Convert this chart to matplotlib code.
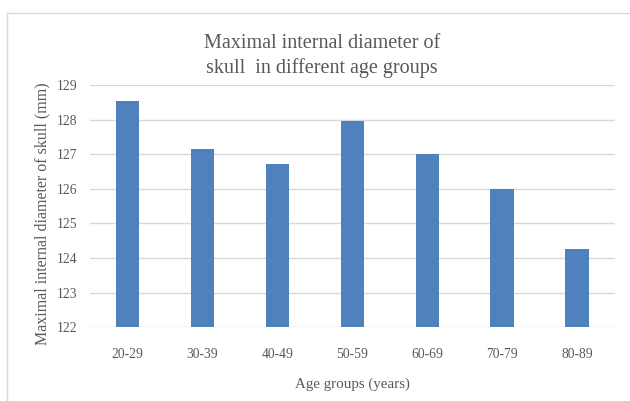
import matplotlib
matplotlib.use("Agg")
import matplotlib.pyplot as plt
from matplotlib.lines import Line2D

categories = ["20-29", "30-39", "40-49", "50-59", "60-69", "70-79", "80-89"]
values = [128.55, 127.14, 126.71, 127.97, 127.02, 126.0, 124.25]
yticks = [122, 123, 124, 125, 126, 127, 128, 129]

plt.rcParams['font.family'] = ['Liberation Serif', 'DejaVu Serif']

W, H = 630, 401
fig = plt.figure(figsize=(W / 100, H / 100), dpi=100)
ax = fig.add_axes([90 / W, 1 - 327.3 / H, (614.5 - 90) / W, (327.3 - 85) / H])

x = list(range(len(categories)))
ax.bar(x, values, width=0.31, color="#4f81bd", zorder=3)
ax.set_ylim(122, 129)
ax.set_xlim(-0.5, len(categories) - 0.5)
ax.set_yticks(yticks)
ax.set_xticks(x)
ax.set_xticklabels(categories)
ax.grid(axis="y", color="#d9d9d9", linewidth=1.0, zorder=0)
for s in ax.spines.values():
    s.set_visible(False)
ax.tick_params(axis="both", length=0, colors="#595959", labelsize=9.8)
ax.tick_params(axis="x", pad=15)
ax.tick_params(axis="y", pad=9)

ax.set_xlabel("Age groups (years)", fontsize=10.8, color="#595959", labelpad=12)
ax.set_ylabel("Maximal internal diameter of skull (mm)", fontsize=11.5, color="#595959")
ax.yaxis.set_label_coords((50 - 90) / (614.5 - 90), 0.47)

fig.text(322 / W, 1 - 56 / H, "Maximal internal diameter of\nskull  in different age groups",
         ha="center", va="center", fontsize=14.5, color="#595959", linespacing=1.35)

fig.add_artist(Line2D([7 / W, 7 / W], [0, 1 - 12.5 / H], transform=fig.transFigure, color="#d9d9d9", linewidth=1))
fig.add_artist(Line2D([7 / W, 1], [1 - 12.5 / H, 1 - 12.5 / H], transform=fig.transFigure, color="#d9d9d9", linewidth=1))

fig.savefig("out.png", dpi=100)
